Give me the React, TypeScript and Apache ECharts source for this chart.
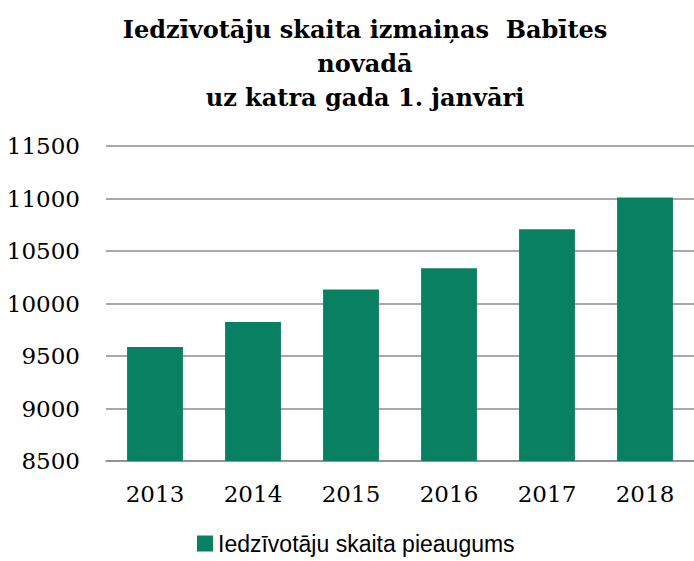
import React, { useEffect, useRef } from "react";
import * as echarts from "echarts";

const titleText = "Iedzīvotāju skaita izmaiņas  Babītes\nnovadā\nuz katra gada 1. janvāri";
const seriesName = "Iedzīvotāju skaita pieaugums";
const years = ["2013", "2014", "2015", "2016", "2017", "2018"];
const population = [9586, 9824, 10133, 10336, 10707, 11010];
const yMin = 8500;
const yMax = 11500;
const yStep = 500;

export default function App() {
  const ref = useRef<HTMLDivElement>(null);
  useEffect(() => {
    if (!ref.current) return;
    const chart = echarts.init(ref.current, null, { renderer: "svg" });
    chart.setOption({
      animation: false,
      backgroundColor: "#ffffff",
      title: {
        text: titleText,
        left: 360,
        top: 7,
        textAlign: "center",
        textStyle: {
          fontFamily: "DejaVu Serif",
          fontWeight: "bold",
          fontSize: 24,
          lineHeight: 34,
          color: "#000000",
        },
      },
      legend: {
        top: 532,
        left: 197,
        padding: 0,
        itemWidth: 16,
        itemHeight: 16,
        itemGap: 8,
        icon: "rect",
        textStyle: { fontFamily: "Liberation Sans", fontSize: 23, color: "#000000" },
        data: [seriesName],
      },
      grid: { left: 106, right: 0, top: 146, bottom: 100 },
      xAxis: {
        type: "category",
        data: years,
        axisLine: { show: true, lineStyle: { color: "#8c8c8c", width: 1.5 } },
        axisTick: { show: false },
        axisLabel: { fontFamily: "DejaVu Serif", fontSize: 23, color: "#000000", margin: 21 },
      },
      yAxis: {
        type: "value",
        min: yMin,
        max: yMax,
        interval: yStep,
        axisLine: { show: false },
        axisTick: { show: false },
        splitLine: { lineStyle: { color: "#8c8c8c", width: 1.5 } },
        axisLabel: {
          fontFamily: "DejaVu Serif",
          fontSize: 23,
          color: "#000000",
          margin: 26,
          formatter: (v: number) => String(v),
        },
      },
      series: [
        {
          name: seriesName,
          type: "bar",
          data: population,
          barWidth: "57%",
          itemStyle: { color: "#0a8062" },
        },
      ],
    });
    return () => chart.dispose();
  }, []);
  return (
    <div
      ref={ref}
      style={{ position: "fixed", left: 0, top: 0, width: 694, height: 561 }}
    />
  );
}
